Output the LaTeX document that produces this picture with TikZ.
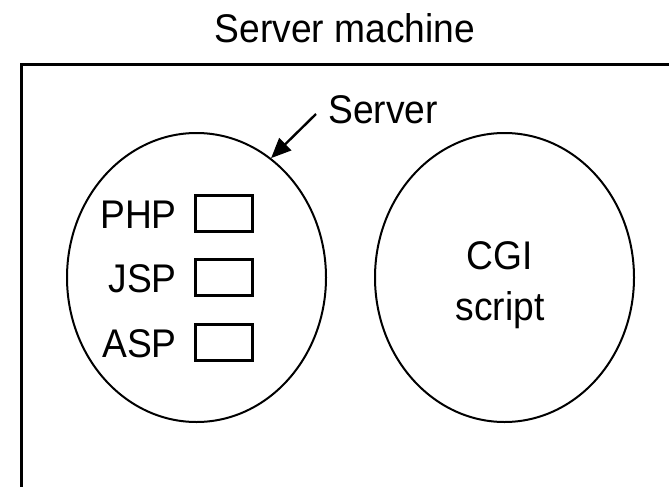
\documentclass[tikz,border=0pt]{standalone}
\usepackage{fontspec}
\setmainfont{Liberation Sans}[FakeStretch=0.93]
\usetikzlibrary{shapes.geometric,arrows.meta}
\begin{document}
\begin{tikzpicture}[x=1pt,y=-1pt,
  lbl/.style={font=\fontsize{40}{48}\selectfont, inner sep=0pt},
  oval/.style={draw, ellipse, line width=2pt, minimum width=259pt, minimum height=289pt, inner sep=0pt},
  slot/.style={draw, line width=3.2pt, minimum width=56.8pt, minimum height=35.8pt, inner sep=0pt},
  ptr/.style={line width=2.4pt, -{Triangle[length=20pt,width=17pt]}}]
\useasboundingbox (0,0) rectangle (669,487);
% frame (cropped at right and bottom)
\draw[line width=3pt] (21,487) -- (21,65) -- (669,65);
\node[lbl, anchor=base] (title) at (345,43) {Server machine};
% ellipses
\node[oval] (srv) at (196.5,277.5) {};
\node[oval] (cgi) at (504.5,277.5) {};
% server label and pointer
\node[lbl, anchor=base west] (srvlbl) at (328,123) {Server};
\coordinate (tail) at (316,114);
\draw[ptr] (tail) -- (srv.58);
% modules
\node[slot] (php) at (224,213.5) {};
\node[slot] (jsp) at (224,277.5) {};
\node[slot] (asp) at (224,342.5) {};
\node[lbl, anchor=base east] (phplbl) at (177,228) {PHP};
\node[lbl, anchor=base east] (jsplbl) at (177,292) {JSP};
\node[lbl, anchor=base east] (asplbl) at (177,357) {ASP};
% CGI text
\node[lbl, anchor=base] (cgi1) at (500,269) {CGI};
\node[lbl, anchor=base] (cgi2) at (500,320) {script};
\end{tikzpicture}
\end{document}
